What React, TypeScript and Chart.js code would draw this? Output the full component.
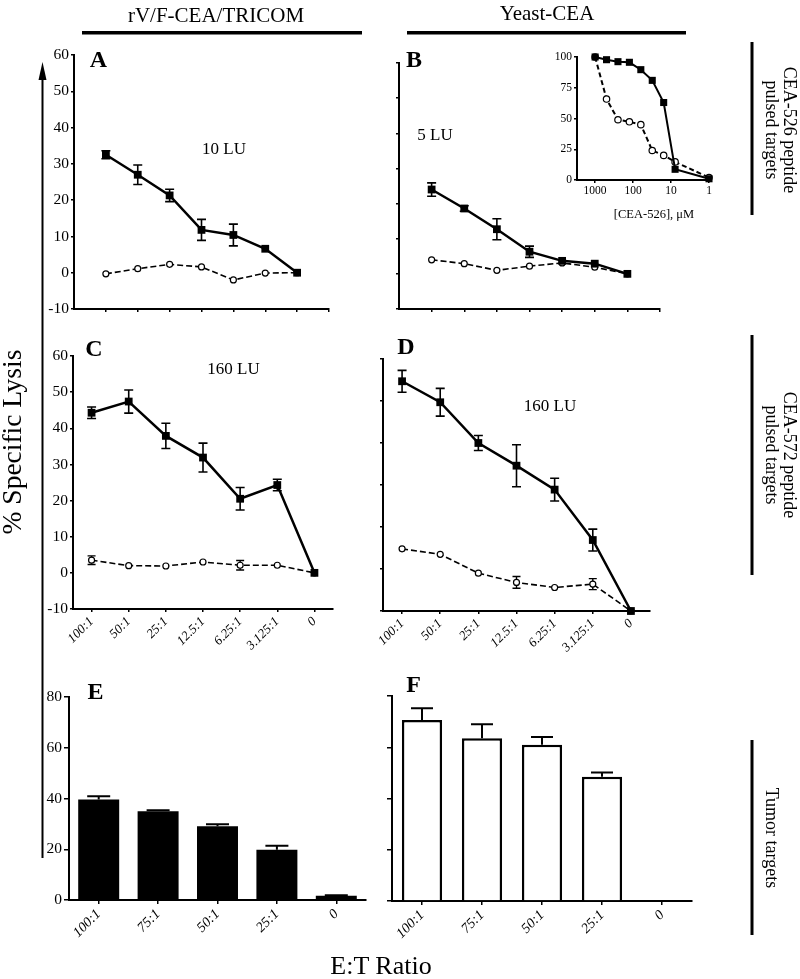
import React, { useEffect, useRef } from 'react';
import { Chart, registerables } from 'chart.js';

Chart.register(...registerables);

const FONT = '"Liberation Serif", "Times New Roman", serif';

// ---------- data ----------
const ratioLabels = ['100:1', '50:1', '25:1', '12.5:1', '6.25:1', '3.125:1', '0'];
const tumorLabels = ['100:1', '75:1', '50:1', '25:1', '0'];

// Panel A (rV/F-CEA/TRICOM, CEA-526 pulsed, 10 LU)
const aTarget = [32.5, 27, 21.3, 11.8, 10.4, 6.6, 0];
const aTargetErr = [1.1, 2.7, 1.7, 2.9, 3.0, 0, 0];
const aControl = [-0.3, 1.1, 2.3, 1.6, -2, -0.1, 0];

// Panel B (Yeast-CEA, CEA-526 pulsed, 5 LU)
const bTarget = [24, 18.6, 12.7, 6.3, 3.7, 2.9, 0];
const bTargetErr = [1.9, 0.8, 3.0, 1.6, 0, 0, 0];
const bControl = [4.0, 2.9, 1.0, 2.2, 3.1, 1.9, 0];

// Inset of B: [CEA-526], uM
const insetConc = [1000, 500, 250, 125, 62.5, 31.25, 15.625, 7.8125, 1];
const insetTarget = [100, 97.8, 96.2, 95.7, 89.7, 81, 63, 8.7, 1];
const insetControl = [100, 65.8, 49, 47.3, 45, 24, 20, 14.7, 2];
const insetTicks = [1000, 100, 10, 1];

// Panel C (rV/F-CEA/TRICOM, CEA-572 pulsed, 160 LU)
const cTarget = [44.3, 47.4, 37.9, 31.9, 20.5, 24.3, 0];
const cTargetErr = [1.6, 3.2, 3.5, 4.0, 3.1, 1.6, 0];
const cControl = [3.5, 2.0, 1.9, 3.0, 2.1, 2.1, 0];
const cControlErr = [1.2, 0, 0, 0, 1.3, 0, 0];

// Panel D (Yeast-CEA, CEA-572 pulsed, 160 LU)
const dTarget = [54.7, 49.7, 40, 34.6, 28.9, 16.9, 0];
const dTargetErr = [2.6, 3.3, 1.8, 5.0, 2.7, 2.6, 0];
const dControl = [14.8, 13.5, 9.0, 6.8, 5.6, 6.4, 0];
const dControlErr = [0, 0, 0, 1.4, 0, 1.3, 0];

// Panel E / F (tumor targets)
const eLysis = [39.6, 35, 29.1, 19.8, 1.7];
const eErr = [1.3, 0.4, 0.8, 1.6, 0.2];
const fLysis = [70.6, 63.5, 61, 48.5, 0];
const fErr = [4.6, 5.5, 3.0, 1.6, 0];

// ---------- helpers ----------
const errorBarPlugin = {
  id: 'errorBars',
  beforeDatasetsDraw(chart: any) {
    if (chart.config.type === 'line') drawErrors(chart);
  },
  afterDatasetsDraw(chart: any) {
    if (chart.config.type === 'bar') drawErrors(chart);
  },
};

function drawErrors(chart: any) {
  const ctx = chart.ctx;
  const yScale = chart.scales.y;
  chart.data.datasets.forEach((ds: any, i: number) => {
    const errs = ds.errorBars;
    if (!errs) return;
    const meta = chart.getDatasetMeta(i);
    ctx.save();
    ctx.strokeStyle = '#000';
    ctx.lineWidth = ds.errorLineWidth ?? 1.5;
    ctx.setLineDash([]);
    meta.data.forEach((el: any, j: number) => {
      const e = errs[j];
      if (!e) return;
      const raw = ds.data[j];
      const v = typeof raw === 'number' ? raw : raw.y;
      const top = yScale.getPixelForValue(v + e);
      const bottom = ds.errorUpOnly ? el.y : yScale.getPixelForValue(v - e);
      const half = (ds.errorCap ?? 9) / 2;
      ctx.beginPath();
      ctx.moveTo(el.x, top);
      ctx.lineTo(el.x, bottom);
      ctx.moveTo(el.x - half, top);
      ctx.lineTo(el.x + half, top);
      if (!ds.errorUpOnly) {
        ctx.moveTo(el.x - half, bottom);
        ctx.lineTo(el.x + half, bottom);
      }
      ctx.stroke();
    });
    ctx.restore();
  });
}

const fixY = (w: number) => (s: any) => {
  s.width = w;
  s.paddingTop = 0; s.paddingBottom = 0; s.paddingLeft = 0; s.paddingRight = 0;
};
const fixX = (h: number) => (s: any) => {
  s.height = h;
  s.paddingTop = 0; s.paddingBottom = 0; s.paddingLeft = 0; s.paddingRight = 0;
};

const grid = (tl: number, offset = false) => ({
  display: true, drawOnChartArea: false, drawTicks: true, tickLength: tl,
  color: '#000', lineWidth: 1.5, offset,
});
const border = { display: true, color: '#000', width: 2 };

type Box = { x: number; y: number; w: number; h: number };

function options(top: number, right: number, scales: any) {
  return {
    animation: false,
    responsive: false,
    maintainAspectRatio: false,
    devicePixelRatio: 1,
    events: [],
    layout: { padding: { left: 0, bottom: 0, top, right } },
    plugins: { legend: { display: false }, tooltip: { enabled: false }, title: { display: false } },
    scales,
  };
}

const solidStyle = {
  borderColor: '#000', borderWidth: 2.5, pointStyle: 'rect', pointRadius: 5.5,
  pointBackgroundColor: '#000', pointBorderColor: '#000', pointBorderWidth: 0,
  clip: false, errorLineWidth: 1.6, errorCap: 9, order: 0,
};
const dashedStyle = {
  borderColor: '#000', borderWidth: 1.6, borderDash: [6, 3], pointStyle: 'circle', pointRadius: 3,
  pointBackgroundColor: '#fff', pointBorderColor: '#000', pointBorderWidth: 1.2,
  clip: false, errorLineWidth: 1.4, errorCap: 8, order: 1,
};

function yAxis(min: number, max: number, step: number, w: number, showLabels: boolean, size = 15, tl = 3) {
  return {
    type: 'linear', min, max,
    ticks: { stepSize: step, display: showLabels, color: '#000', font: { family: FONT, size }, padding: 2 },
    grid: grid(tl), border, afterFit: fixY(w),
  };
}

function slotX(h: number) {
  return {
    type: 'linear', min: 0, max: ratioLabels.length + 1,
    afterBuildTicks: (s: any) => {
      s.ticks = ratioLabels.map((_, i) => ({ value: i + 1 })).concat([{ value: ratioLabels.length + 1 }]);
    },
    ticks: { display: false },
    grid: grid(3), border, afterFit: fixX(h),
  };
}

function catX(h: number, size: number, gridOffset: boolean, tl: number) {
  return {
    type: 'category', offset: true,
    ticks: {
      color: '#000', font: { family: FONT, size, style: 'italic' },
      minRotation: 45, maxRotation: 45, autoSkip: false, padding: 2,
    },
    grid: grid(tl, gridOffset), border, afterFit: fixX(h),
  };
}

const slotPts = (vals: number[]) => vals.map((y, i) => ({ x: i + 1, y }));

function ChartBox({ box, config }: { box: Box; config: any }) {
  const ref = useRef<HTMLCanvasElement>(null);
  useEffect(() => {
    const chart = new Chart(ref.current as HTMLCanvasElement, config);
    return () => chart.destroy();
  }, []);
  return (
    <canvas
      ref={ref}
      width={box.w}
      height={box.h}
      style={{ position: 'absolute', left: box.x, top: box.y, width: box.w, height: box.h }}
    />
  );
}

function Txt({ x, y, size, bold, italic, rotate, lh, children }: any) {
  return (
    <div
      style={{
        position: 'absolute', left: x, top: y,
        transform: `translate(-50%, -50%)${rotate ? ` rotate(${rotate}deg)` : ''}`,
        fontFamily: FONT, fontSize: size, fontWeight: bold ? 'bold' : 'normal',
        fontStyle: italic ? 'italic' : 'normal', lineHeight: lh ? `${lh}px` : 1,
        whiteSpace: 'pre', textAlign: 'center', color: '#000',
      }}
    >
      {children}
    </div>
  );
}

// ---------- chart configs ----------
const boxA: Box = { x: 20, y: 40, w: 330, h: 285 };
const cfgA = {
  type: 'line',
  data: {
    datasets: [
      { ...solidStyle, data: slotPts(aTarget), errorBars: aTargetErr },
      { ...dashedStyle, data: slotPts(aControl) },
    ],
  },
  options: options(15, 21, { x: slotX(16), y: yAxis(-10, 60, 10, 54, true, 15.5) }),
  plugins: [errorBarPlugin],
};

const boxB: Box = { x: 380, y: 50, w: 300, h: 275 };
const cfgB = {
  type: 'line',
  data: {
    datasets: [
      { ...solidStyle, data: slotPts(bTarget), errorBars: bTargetErr },
      { ...dashedStyle, data: slotPts(bControl) },
    ],
  },
  options: options(13, 20, { x: slotX(16), y: yAxis(-10, 60, 10, 19, false) }),
  plugins: [errorBarPlugin],
};

const boxInset: Box = { x: 540, y: 45, w: 180, h: 160 };
const cfgInset = {
  type: 'line',
  data: {
    datasets: [
      { ...solidStyle, borderWidth: 2, pointRadius: 5, data: insetConc.map((x, i) => ({ x, y: insetTarget[i] })) },
      { ...dashedStyle, borderWidth: 2, borderDash: [5, 3], pointRadius: 3.2, data: insetConc.map((x, i) => ({ x, y: insetControl[i] })) },
    ],
  },
  options: options(12, 11, {
    x: {
      type: 'logarithmic', min: 1, max: 3000, reverse: true,
      afterBuildTicks: (s: any) => { s.ticks = insetTicks.map((v) => ({ value: v })); },
      ticks: { color: '#000', font: { family: FONT, size: 11.5 }, padding: 1, maxRotation: 0, callback: (v: any) => String(v) },
      grid: grid(3), border, afterFit: fixX(25),
    },
    y: yAxis(0, 100, 25, 37, true, 11.5, 3),
  }),
};

const boxC: Box = { x: 20, y: 330, w: 330, h: 345 };
const cfgC = {
  type: 'line',
  data: {
    labels: ratioLabels,
    datasets: [
      { ...solidStyle, data: cTarget, errorBars: cTargetErr },
      { ...dashedStyle, data: cControl, errorBars: cControlErr },
    ],
  },
  options: options(26, 17, { x: catX(66, 13, false, 3), y: yAxis(-10, 60, 10, 53, true, 15.5) }),
  plugins: [errorBarPlugin],
};

const boxD: Box = { x: 370, y: 335, w: 300, h: 340 };
const cfgD = {
  type: 'line',
  data: {
    labels: ratioLabels,
    datasets: [
      { ...solidStyle, data: dTarget, errorBars: dTargetErr },
      { ...dashedStyle, data: dControl, errorBars: dControlErr },
    ],
  },
  options: options(24, 20, { x: catX(64, 13, false, 3), y: yAxis(0, 60, 10, 13, false) }),
  plugins: [errorBarPlugin],
};

const boxE: Box = { x: 20, y: 680, w: 360, h: 270 };
const cfgE = {
  type: 'bar',
  data: {
    labels: tumorLabels,
    datasets: [
      {
        data: eLysis, backgroundColor: '#000', borderColor: '#000', borderWidth: 0,
        barPercentage: 0.69, categoryPercentage: 1,
        errorBars: eErr, errorUpOnly: true, errorCap: 23, errorLineWidth: 2,
      },
    ],
  },
  options: options(17, 14, { x: catX(50, 14, false, 4), y: yAxis(0, 80, 20, 49, true, 15.5, 5) }),
  plugins: [errorBarPlugin],
};

const boxF: Box = { x: 375, y: 680, w: 330, h: 270 };
const cfgF = {
  type: 'bar',
  data: {
    labels: tumorLabels,
    datasets: [
      {
        data: fLysis, backgroundColor: '#fff', borderColor: '#000', borderWidth: 2.5,
        barPercentage: 0.67, categoryPercentage: 1,
        errorBars: fErr, errorUpOnly: true, errorCap: 22, errorLineWidth: 2,
      },
    ],
  },
  options: options(16, 13, { x: catX(49, 14, false, 4), y: yAxis(0, 80, 20, 17, false, 15, 5) }),
  plugins: [errorBarPlugin],
};

export default function App() {
  return (
    <div style={{ position: 'absolute', left: 0, top: 0, width: 800, height: 979, overflow: 'hidden', background: '#fff' }}>
      <ChartBox box={boxA} config={cfgA} />
      <ChartBox box={boxB} config={cfgB} />
      <ChartBox box={boxInset} config={cfgInset} />
      <ChartBox box={boxC} config={cfgC} />
      <ChartBox box={boxD} config={cfgD} />
      <ChartBox box={boxE} config={cfgE} />
      <ChartBox box={boxF} config={cfgF} />

      <svg width={800} height={979} style={{ position: 'absolute', left: 0, top: 0, pointerEvents: 'none' }}>
        <rect x={82} y={31} width={280} height={3.5} fill="#000" />
        <rect x={407} y={31} width={279} height={3.5} fill="#000" />
        <rect x={750.5} y={42} width={3} height={173} fill="#000" />
        <rect x={750.5} y={335} width={3} height={240} fill="#000" />
        <rect x={750.5} y={740} width={3} height={195} fill="#000" />
        <line x1={42.5} y1={76} x2={42.5} y2={858} stroke="#000" strokeWidth={2} />
        <polygon points="42.5,62 38.5,80 46.5,80" fill="#000" />
      </svg>

      <Txt x={216} y={15} size={21}>rV/F-CEA/TRICOM</Txt>
      <Txt x={547} y={13} size={21}>Yeast-CEA</Txt>

      <Txt x={98.5} y={58.5} size={24} bold>A</Txt>
      <Txt x={414} y={58.5} size={24} bold>B</Txt>
      <Txt x={94} y={347.5} size={24} bold>C</Txt>
      <Txt x={406} y={345.5} size={24} bold>D</Txt>
      <Txt x={95.5} y={690.5} size={24} bold>E</Txt>
      <Txt x={413.5} y={684} size={24} bold>F</Txt>

      <Txt x={224} y={147.5} size={17}>10 LU</Txt>
      <Txt x={435} y={133.5} size={17}>5 LU</Txt>
      <Txt x={233.5} y={368} size={17}>160 LU</Txt>
      <Txt x={550} y={405} size={17}>160 LU</Txt>

      <Txt x={654} y={214} size={12.5}>[CEA-526], μM</Txt>

      <Txt x={12} y={442} size={27.5} rotate={-90}>% Specific Lysis</Txt>
      <Txt x={381} y={966} size={26}>E:T Ratio</Txt>

      <Txt x={781} y={130} size={18} lh={18} rotate={90}>{'CEA-526 peptide\npulsed targets'}</Txt>
      <Txt x={781} y={455} size={18} lh={18} rotate={90}>{'CEA-572 peptide\npulsed targets'}</Txt>
      <Txt x={772} y={838} size={18} rotate={90}>Tumor targets</Txt>
    </div>
  );
}
